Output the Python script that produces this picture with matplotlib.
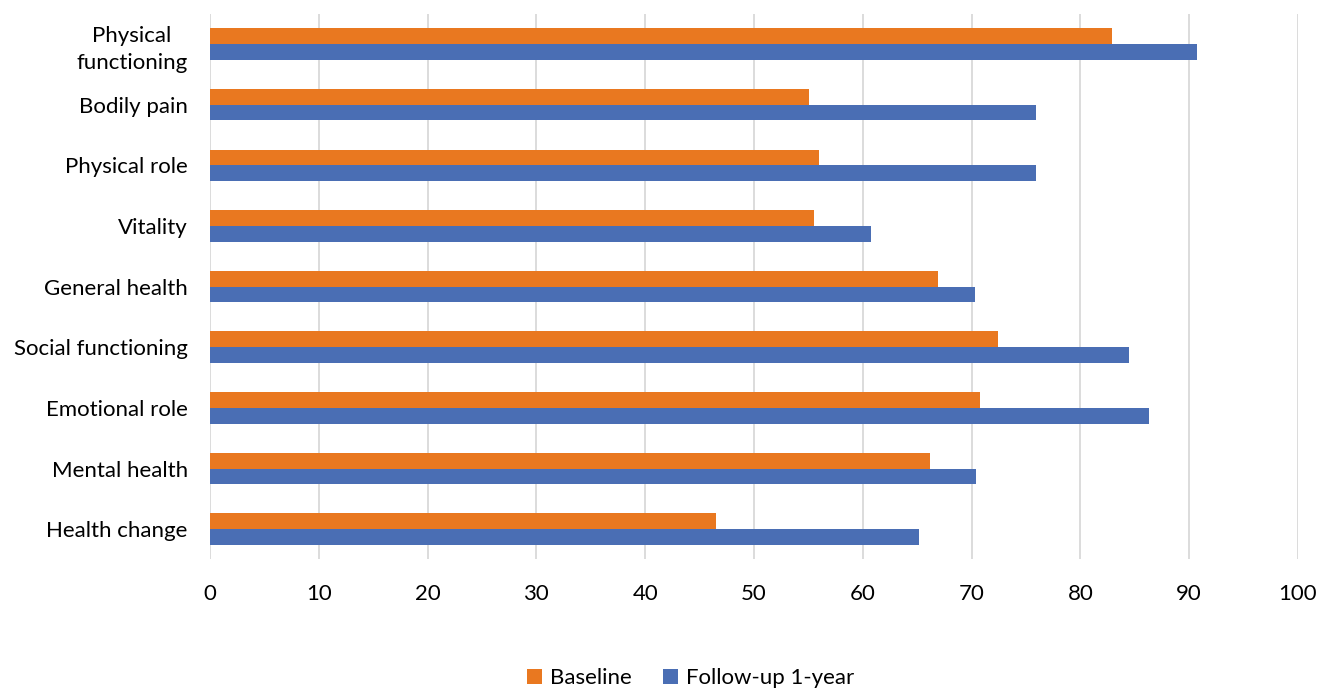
import numpy as np
import matplotlib.pyplot as plt

plt.rcParams['font.family'] = ['Lato', 'DejaVu Sans']

categories = ['Physical\nfunctioning', 'Bodily pain', 'Physical role', 'Vitality',
              'General health', 'Social functioning', 'Emotional role',
              'Mental health', 'Health change']
baseline = [82.9, 55.1, 56.0, 55.5, 66.9, 72.4, 70.8, 66.2, 46.5]
followup = [90.7, 75.9, 75.9, 60.8, 70.3, 84.5, 86.3, 70.4, 65.2]

orange = '#E97820'
blue = '#4A6EB4'

fig = plt.figure(figsize=(13.33, 6.89), dpi=100)
ax = fig.add_axes([0.1575, 0.188, 0.8162, 0.792])

y = np.arange(len(categories))
h = 0.26
ax.barh(y - h / 2, baseline, height=h, color=orange, label='Baseline', zorder=3)
ax.barh(y + h / 2, followup, height=h, color=blue, label='Follow-up 1-year', zorder=3)

ax.set_xlim(0, 100)
ax.set_ylim(len(categories) - 0.5, -0.5)
ax.set_xticks(range(0, 101, 10))
ax.set_yticks(y)
ax.set_yticklabels(categories)
for lab in ax.get_yticklabels():
    lab.set_multialignment('center')
    lab.set_linespacing(1.45)

ax.grid(axis='x', color='#D9D9D9', linewidth=1.3, zorder=0)
for s in ax.spines.values():
    s.set_visible(False)
ax.tick_params(axis='both', length=0, labelsize=16, colors='black')
ax.tick_params(axis='x', pad=18)
ax.tick_params(axis='y', pad=16)

fig.legend(loc='lower center', bbox_to_anchor=(0.518, -0.028), ncol=2, frameon=False,
           fontsize=16, handlelength=0.7, handleheight=0.7, handletextpad=0.35,
           columnspacing=1.4)

fig.savefig('out.png', dpi=100)
